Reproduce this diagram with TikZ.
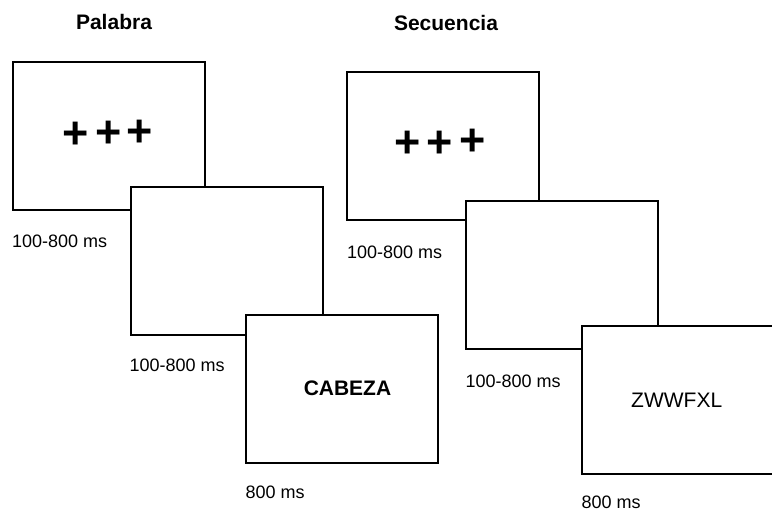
\documentclass[tikz,border=0pt]{standalone}
\usepackage{fontspec}
\setmainfont{Liberation Sans}
\begin{document}
\begin{tikzpicture}[x=1pt,y=-1pt,
  screen/.style={draw=black, line width=2.6pt, fill=white, minimum width=192pt, minimum height=148pt, inner sep=0pt},
  dur/.style={anchor=base west, inner sep=0pt, font=\fontsize{18}{20}\selectfont},
  ttl/.style={anchor=base, inner sep=0pt, font=\bfseries\fontsize{21}{24}\selectfont},
  plussign/.style={anchor=base, inner sep=0pt, font=\bfseries\fontsize{45}{50}\selectfont},
  stim/.style={anchor=base, inner sep=0pt, font=\fontsize{21}{24}\selectfont}]
\useasboundingbox (0,0) rectangle (772,511);
% titles
\node[ttl] (tpal) at (114,29.5) {Palabra};
\node[ttl] (tsec) at (446,30.5) {Secuencia};
% left sequence
\node[screen] (l1) at (109,136) {};
\node[plussign] (lp1) at (75.5,148.7) {+};
\node[plussign] (lp2) at (108.3,147.7) {+};
\node[plussign] (lp3) at (140,146.7) {+};
\node[dur] (ld1) at (12,247) {100-800 ms};
\node[screen] (l2) at (227,261) {};
\node[dur] (ld2) at (129.5,371.5) {100-800 ms};
\node[screen] (l3) at (342,389) {};
\node[stim,font=\bfseries\fontsize{21}{24}\selectfont] (lw) at (347.5,395) {CABEZA};
\node[dur] (ld3) at (245.5,498) {800 ms};
% right sequence
\node[screen] (r1) at (443,146) {};
\node[plussign] (rp1) at (407.5,157.7) {+};
\node[plussign] (rp2) at (440,157.7) {+};
\node[plussign] (rp3) at (472.7,156) {+};
\node[dur] (rd1) at (347,258) {100-800 ms};
\node[screen] (r2) at (562,275) {};
\node[dur] (rd2) at (465.5,387) {100-800 ms};
\node[screen] (r3) at (678,400) {};
\node[stim] (rw) at (676.7,407.5) {ZWWFXL};
\node[dur] (rd3) at (581.5,508) {800 ms};
\end{tikzpicture}
\end{document}
